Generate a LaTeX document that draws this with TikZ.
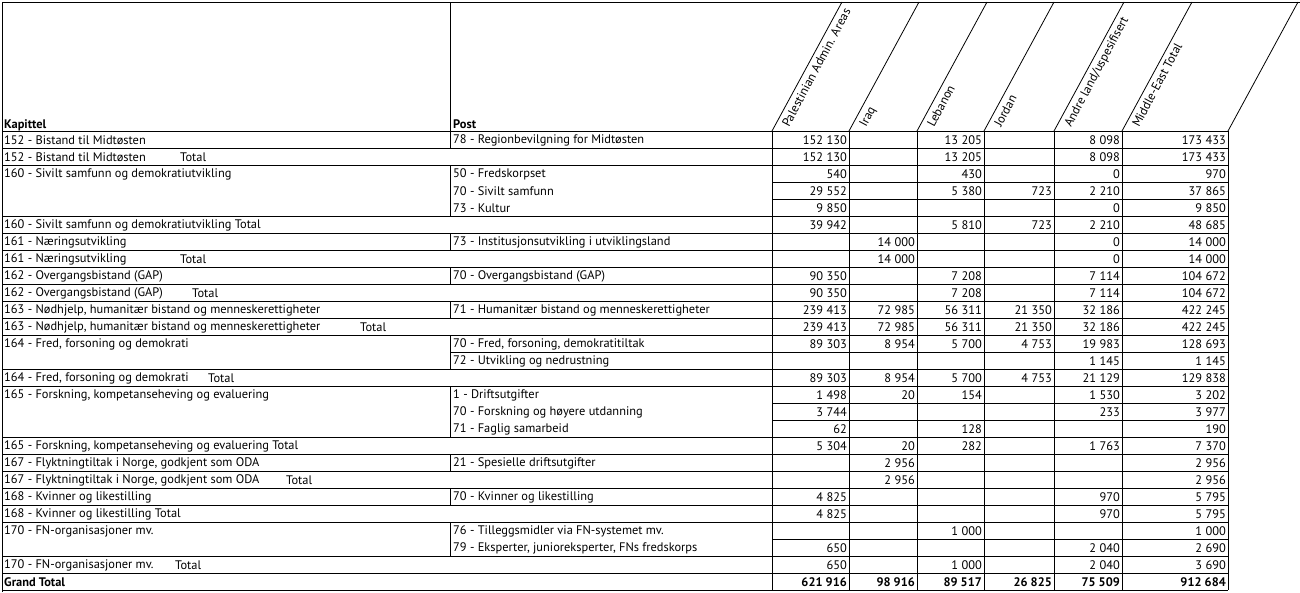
\documentclass[tikz,border=0pt]{standalone}
\usepackage{fontspec}
\setmainfont{PT Sans}
\usetikzlibrary{positioning}

\newcommand\cellfont{\fontsize{12.4}{14}\selectfont}
\tikzset{
  grid/.style={line width=0.8pt},
  txt/.style={anchor=west, inner sep=0pt, font=\cellfont},
  num/.style={anchor=east, inner sep=0pt, font=\cellfont},
  head/.style={anchor=base west, inner sep=0pt, rotate=62, font=\cellfont}
}
% y-Mitte einer Zeile
\newcommand\rowy[1]{\pgfmathsetmacro\ry{131+17*(#1)-8}}
% Zahlen einer Zeile
\newcommand\vals[7]{%
  \rowy{#1}
  \node[num] (pal#1) at (847,\ry) {#2};
  \node[num] (irq#1) at (915,\ry) {#3};
  \node[num] (leb#1) at (982,\ry) {#4};
  \node[num] (jor#1) at (1052,\ry) {#5};
  \node[num] (and#1) at (1120,\ry) {#6};
  \node[num] (tot#1) at (1226,\ry) {#7};
}
\newcommand\kap[2]{\rowy{#1}\node[txt] (kap#1) at (4,\ry) {#2};}
\newcommand\pst[2]{\rowy{#1}\node[txt] (pst#1) at (453,\ry) {#2};}
\newcommand\tot[2]{\rowy{#1}\node[txt] (sum#1) at (#2,\ry) {Total};}

\begin{document}
\begin{tikzpicture}[x=1pt,y=-1pt]
\useasboundingbox (0,0) rectangle (1300,592);

% Kopf
\draw[grid] (2,592)--(2,2)--(1300,2);
\draw[grid] (450,2)--(450,131);
\draw[grid] (2,131)--(1228,131);
\foreach \x in {772,849,917,984,1054,1122,1228}
  \draw[grid] (\x,131)--(\x+70,2);
\node[anchor=base west, inner sep=0pt, font=\cellfont\bfseries] (kapittel) at (4,128) {Kapittel};
\node[anchor=base west, inner sep=0pt, font=\cellfont\bfseries] (post) at (453,128) {Post};
\node[head] (hpal) at (789,128) {Palestinian Admin. Areas};
\node[head] (hirq) at (866,128) {Iraq};
\node[head] (hleb) at (934,128) {Lebanon};
\node[head] (hjor) at (1001,128) {Jordan};
\node[head] (hand) at (1071,128) {Andre land/uspesifisert};
\node[head] (htot) at (1139,128) {Middle-East Total};

% Gitter
\foreach \x in {772,849,917,984,1054,1122,1228}
  \draw[grid] (\x,131)--(\x,590);
\foreach \r in {0,...,27}
  \draw[grid] (772,131+17*\r)--(1228,131+17*\r);
\foreach \r in {1,2,3,6,7,8,9,10,11,12,13,15,16,19,20,21,22,23,24,26,27,28}
  \draw[grid] (2,131+17*\r-17)--(772,131+17*\r-17);
\draw[grid] (450,131+17*13)--(772,131+17*13);
\foreach \r in {1,3,4,5,7,9,11,13,14,16,17,18,20,22,24,25}
  \draw[grid] (450,131+17*\r-17)--(450,131+17*\r);

% Text
\kap{1}{152 - Bistand til Midtøsten} \pst{1}{78 - Regionbevilgning for Midtøsten}
\kap{2}{152 - Bistand til Midtøsten} \tot{2}{180}
\kap{3}{160 - Sivilt samfunn og demokratiutvikling} \pst{3}{50 - Fredskorpset}
\pst{4}{70 - Sivilt samfunn} \pst{5}{73 - Kultur}
\kap{6}{160 - Sivilt samfunn og demokratiutvikling Total}
\kap{7}{161 - Næringsutvikling} \pst{7}{73 - Institusjonsutvikling i utviklingsland}
\kap{8}{161 - Næringsutvikling} \tot{8}{180}
\kap{9}{162 - Overgangsbistand (GAP)} \pst{9}{70 - Overgangsbistand (GAP)}
\kap{10}{162 - Overgangsbistand (GAP)} \tot{10}{192}
\kap{11}{163 - Nødhjelp, humanitær bistand og menneskerettigheter} \pst{11}{71 - Humanitær bistand og menneskerettigheter}
\kap{12}{163 - Nødhjelp, humanitær bistand og menneskerettigheter} \tot{12}{360}
\kap{13}{164 - Fred, forsoning og demokrati} \pst{13}{70 - Fred, forsoning, demokratitiltak}
\pst{14}{72 - Utvikling og nedrustning}
\kap{15}{164 - Fred, forsoning og demokrati} \tot{15}{208}
\kap{16}{165 - Forskning, kompetanseheving og evaluering} \pst{16}{1 - Driftsutgifter}
\pst{17}{70 - Forskning og høyere utdanning} \pst{18}{71 - Faglig samarbeid}
\kap{19}{165 - Forskning, kompetanseheving og evaluering Total}
\kap{20}{167 - Flyktningtiltak i Norge, godkjent som ODA} \pst{20}{21 - Spesielle driftsutgifter}
\kap{21}{167 - Flyktningtiltak i Norge, godkjent som ODA} \tot{21}{286}
\kap{22}{168 - Kvinner og likestilling} \pst{22}{70 - Kvinner og likestilling}
\kap{23}{168 - Kvinner og likestilling Total}
\kap{24}{170 - FN-organisasjoner mv.} \pst{24}{76 - Tilleggsmidler via FN-systemet mv.}
\pst{25}{79 - Eksperter,  junioreksperter, FNs fredskorps}
\kap{26}{170 - FN-organisasjoner mv.} \tot{26}{175}
\rowy{27}\node[txt, font=\cellfont\bfseries] (grand) at (4,\ry) {Grand Total};

% Zahlen
\vals{1}{152 130}{}{13 205}{}{8 098}{173 433}
\vals{2}{152 130}{}{13 205}{}{8 098}{173 433}
\vals{3}{540}{}{430}{}{0}{970}
\vals{4}{29 552}{}{5 380}{723}{2 210}{37 865}
\vals{5}{9 850}{}{}{}{0}{9 850}
\vals{6}{39 942}{}{5 810}{723}{2 210}{48 685}
\vals{7}{}{14 000}{}{}{0}{14 000}
\vals{8}{}{14 000}{}{}{0}{14 000}
\vals{9}{90 350}{}{7 208}{}{7 114}{104 672}
\vals{10}{90 350}{}{7 208}{}{7 114}{104 672}
\vals{11}{239 413}{72 985}{56 311}{21 350}{32 186}{422 245}
\vals{12}{239 413}{72 985}{56 311}{21 350}{32 186}{422 245}
\vals{13}{89 303}{8 954}{5 700}{4 753}{19 983}{128 693}
\vals{14}{}{}{}{}{1 145}{1 145}
\vals{15}{89 303}{8 954}{5 700}{4 753}{21 129}{129 838}
\vals{16}{1 498}{20}{154}{}{1 530}{3 202}
\vals{17}{3 744}{}{}{}{233}{3 977}
\vals{18}{62}{}{128}{}{}{190}
\vals{19}{5 304}{20}{282}{}{1 763}{7 370}
\vals{20}{}{2 956}{}{}{}{2 956}
\vals{21}{}{2 956}{}{}{}{2 956}
\vals{22}{4 825}{}{}{}{970}{5 795}
\vals{23}{4 825}{}{}{}{970}{5 795}
\vals{24}{}{}{1 000}{}{}{1 000}
\vals{25}{650}{}{}{}{2 040}{2 690}
\vals{26}{650}{}{1 000}{}{2 040}{3 690}
\renewcommand\cellfont{\fontsize{12.4}{14}\selectfont\bfseries}
\vals{27}{621 916}{98 916}{89 517}{26 825}{75 509}{912 684}
\end{tikzpicture}
\end{document}
